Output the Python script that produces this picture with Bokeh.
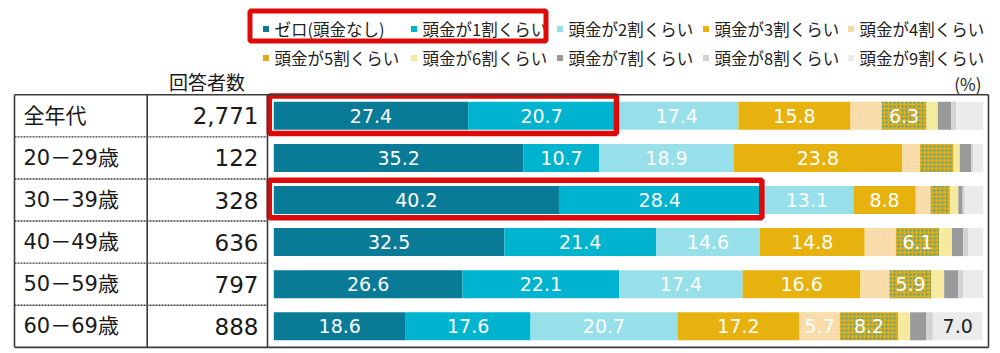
from bokeh.plotting import figure
from bokeh.models import Range1d, ColumnDataSource
from bokeh.core.properties import value
from bokeh.embed import file_html
from bokeh.resources import INLINE
import numpy as np

# ---------------- data ----------------
categories = ["全年代", "20－29歳", "30－39歳", "40－49歳", "50－59歳", "60－69歳"]
counts = ["2,771", "122", "328", "636", "797", "888"]
series_names = ["ゼロ(頭金なし)", "頭金が1割くらい", "頭金が2割くらい", "頭金が3割くらい",
                "頭金が4割くらい", "頭金が5割くらい", "頭金が6割くらい", "頭金が7割くらい",
                "頭金が8割くらい", "頭金が9割くらい"]
zero = [27.4, 35.2, 40.2, 32.5, 26.6, 18.6]
wari1 = [20.7, 10.7, 28.4, 21.4, 22.1, 17.6]
wari2 = [17.4, 18.9, 13.1, 14.6, 17.4, 20.7]
wari3 = [15.8, 23.8, 8.8, 14.8, 16.6, 17.2]
wari4 = [4.4, 2.5, 2.1, 4.4, 4.1, 5.7]
wari5 = [6.3, 4.7, 2.7, 6.1, 5.9, 8.2]
wari6 = [1.6, 0.9, 1.2, 1.8, 1.8, 1.7]
wari7 = [1.9, 1.6, 0.6, 1.6, 2.0, 2.3]
wari8 = [0.7, 0.3, 0.3, 0.7, 0.7, 0.9]
wari9 = [3.8, 1.4, 2.6, 2.1, 2.8, 7.0]
highlight_rows = [0, 2]

series = [zero, wari1, wari2, wari3, wari4, wari5, wari6, wari7, wari8, wari9]
colors = ["#0A7B97", "#00B4D0", "#97E0EA", "#E8B20E", "#F7D9A3",
          "#DDAC1A", "#F6EA9E", "#9A9A9A", "#D3D3D3", "#EBEBEB"]
label_colors = ["white"] * 8 + ["#222222", "#222222"]

# ---------------- layout helpers (pixel -> data) ----------------
W, H = 1000, 353
X0, PXP = 273.3, 7.094   # x pixel of 0 %, pixels per %
Y0, PXR = 115.3, 42.1    # y pixel of first row centre, pixels per row


def X(px):
    return (px - X0) / PXP


def Y(py):
    return (py - Y0) / PXR


p = figure(width=W, height=H, x_range=Range1d(X(0), X(W)), y_range=Range1d(Y(H), Y(0)),
           output_backend="svg", toolbar_location=None,
           x_axis_location=None, y_axis_location=None, min_border=0,
           outline_line_color=None, background_fill_color="white", border_fill_color="white")
p.grid.visible = False

rows = np.arange(len(categories), dtype=float)
num_font = value("DejaVu Sans")
jp_font = value("Noto Sans CJK JP")
mix_font = value("DejaVu Sans, Noto Sans CJK JP")

# ---------------- bars ----------------
left = np.zeros(len(categories))
for k, vals in enumerate(series):
    v = np.array(vals, dtype=float)
    right = left + v
    src = ColumnDataSource(dict(y=rows, left=left.copy(), right=right.copy()))
    extra = {}
    if k == 5:
        extra = dict(hatch_pattern="dot", hatch_color="#1C9AB2", hatch_scale=4,
                     hatch_weight=0.9, hatch_alpha=0.85)
    if k == 4:
        extra = dict(hatch_pattern="dot", hatch_color="#FBE9C8", hatch_scale=3, hatch_weight=1)
    p.hbar(y="y", left="left", right="right", height=0.665, fill_color=colors[k],
           line_color=None, source=src, **extra)
    mask = v >= 5
    if mask.any():
        p.text(x=((left + right) / 2)[mask], y=rows[mask],
               text=["%.1f" % t for t in v[mask]],
               text_align="center", text_baseline="middle", text_font=num_font,
               text_font_size="19px", text_color=label_colors[k])
    left = right

# ---------------- red highlight boxes ----------------
tot2 = np.array(zero) + np.array(wari1)
hb = np.array(highlight_rows)
p.quad(left=[X(268.8)] * len(hb), right=tot2[hb] + 0.2, top=rows[hb] - 0.47,
       bottom=rows[hb] + 0.42, fill_color=None, line_color="#DD0A0A", line_width=5.5)

# ---------------- table ----------------
line_col = "#3A3A3A"
top, bot = -0.5, len(categories) - 0.5
# outer frame
p.segment(x0=[X(14), X(14), X(988), X(14)], y0=[top, bot, top, top],
          x1=[X(988), X(988), X(988), X(14)], y1=[top, bot, bot, bot],
          line_color=line_col, line_width=1.6)
# column separators
p.segment(x0=[X(146.7), X(267)], y0=[top, top], x1=[X(146.7), X(267)], y1=[bot, bot],
          line_color=line_col, line_width=1.6)
# dashed row separators
p.segment(x0=[X(14)] * 5, y0=rows[:-1] + 0.5, x1=[X(267)] * 5, y1=rows[:-1] + 0.5,
          line_color=line_col, line_width=1.4, line_dash="2 1")

p.text(x=[X(23)] * len(categories), y=rows, text=categories, text_align="left",
       text_baseline="middle", text_font=mix_font, text_font_size="21px", text_color="#1A1A1A")
p.text(x=[X(258)] * len(counts), y=rows, text=counts, text_align="right",
       text_baseline="middle", text_font=num_font, text_font_size="23px", text_color="#1A1A1A")
p.text(x=[X(206.5)], y=[Y(81)], text=["回答者数"], text_align="center", text_baseline="middle",
       text_font=jp_font, text_font_size="19px", text_color="#1A1A1A")

# ---------------- legend ----------------
col_px = [263, 411, 557, 703, 848]
row_py = [28.5, 57.5]
lx, ly, lt, lc = [], [], [], []
for k, name in enumerate(series_names):
    r, c = divmod(k, 5)
    lx.append(X(col_px[c] + 2.5))
    ly.append(Y(row_py[r]))
    lt.append(name)
    lc.append(colors[k])
p.scatter(x=lx, y=ly, marker="square", size=6, fill_color=lc, line_color=None)
p.text(x=[x + 8.5 / PXP for x in lx], y=ly, text=lt, text_align="left", text_baseline="middle",
       text_font=jp_font, text_font_size="16.5px", text_color="#222222")
p.text(x=[X(981)], y=[Y(83)], text=["(%)"], text_align="right", text_baseline="middle",
       text_font=jp_font, text_font_size="17px", text_color="#222222")

# red legend box around the first two legend items
p.quad(left=[X(249.5)], right=[X(545.5)], top=[Y(10.5)], bottom=[Y(40.5)],
       fill_color=None, line_color="#DD0A0A", line_width=5)

open("out.html", "w").write(file_html(p, INLINE))
